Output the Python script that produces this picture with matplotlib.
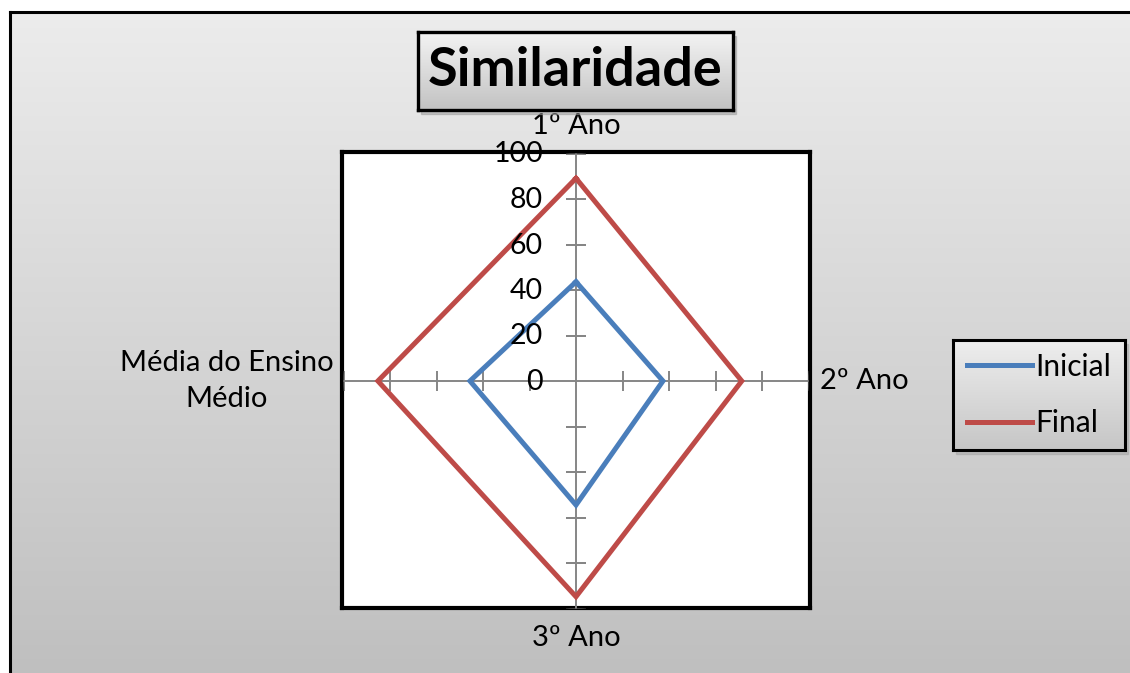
import numpy as np
import matplotlib
matplotlib.use('Agg')
import matplotlib.pyplot as plt
from matplotlib.colors import LinearSegmentedColormap
from matplotlib.lines import Line2D
from matplotlib.patches import Rectangle

# data
categories = ['1º Ano', '2º Ano', '3º Ano', 'Média do Ensino\nMédio']
inicial = [43.6, 37.4, 54.5, 45.6]
final = [89.1, 71.3, 94.8, 85.2]
r_ticks = [0, 20, 40, 60, 80, 100]

W, H = 1130, 673
plt.rcParams['font.family'] = ['Lato', 'DejaVu Sans']
fig = plt.figure(figsize=(W / 100, H / 100), dpi=100)


def fr(x0, y0, x1, y1):
    # pixel box (origin top-left) -> figure rect
    return [x0 / W, 1 - y1 / H, (x1 - x0) / W, (y1 - y0) / H]


def gradient_axes(rect, top, bottom, zorder, lw):
    a = fig.add_axes(rect, zorder=zorder)
    g = np.linspace(0, 1, 256).reshape(-1, 1)
    cmap = LinearSegmentedColormap.from_list('g', [top, bottom])
    a.imshow(g, aspect='auto', cmap=cmap, extent=(0, 1, 0, 1), origin='upper')
    a.set_xticks([])
    a.set_yticks([])
    for s in a.spines.values():
        s.set_linewidth(lw)
        s.set_color('black')
    return a


# chart area background
gradient_axes(fr(10, 12, 1145, 690), '#ececec', '#bebebe', 0, 2.2)

# plot area box
pa = fig.add_axes(fr(342, 152, 810, 608), zorder=1)
pa.set_facecolor('white')
pa.set_xticks([])
pa.set_yticks([])
for s in pa.spines.values():
    s.set_linewidth(3)

# radar axes (Excel stretches it slightly wider than tall)
ax = fig.add_axes(fr(343.5, 153.5, 808.5, 608.5), projection='polar', zorder=2)
ax.set_aspect('auto')
ax.set_facecolor('none')
ax.set_theta_zero_location('N')
ax.set_theta_direction(-1)
ax.set_ylim(0, 100)
ax.grid(False)
ax.spines['polar'].set_visible(False)
ax.set_xticks([])
ax.set_yticks([])

angles = np.arange(len(categories)) * 2 * np.pi / len(categories)
grey = '#868686'
for i, th in enumerate(angles):
    ax.plot([th, th], [0, 100], color=grey, lw=1.4, zorder=1)
    ax.plot(np.full(len(r_ticks) - 1, th), r_ticks[1:], ls='none',
            marker='_' if i % 2 == 0 else '|', ms=15, mew=1.4,
            color=grey, zorder=1)

th_closed = np.append(angles, angles[0])
ax.plot(th_closed, inicial + inicial[:1], color='#4a7ebb', lw=3.6,
        solid_joinstyle='miter', zorder=3)
ax.plot(th_closed, final + final[:1], color='#be4b48', lw=3.6,
        solid_joinstyle='miter', zorder=3)

for r in r_ticks:
    ax.annotate(str(r), (0, r), xytext=(-33, -1), textcoords='offset pixels',
                ha='right', va='center', fontsize=20.5, zorder=4)

lab_off = [(0, 27, 'center'), (12, 0, 'left'), (0, -29, 'center'), (-10, 0, 'right')]
for th, lab, (dx, dy, ha) in zip(angles, categories, lab_off):
    ax.annotate(lab, (th, 100), xytext=(dx, dy), textcoords='offset pixels',
                ha=ha, va='center', multialignment='center', linespacing=1.45,
                fontsize=21, annotation_clip=False)

# title box
fig.patches.append(Rectangle((421 / W, 1 - 114 / H), 315 / W, 78 / H,
                             transform=fig.transFigure, color='#999999',
                             alpha=0.5, zorder=2))
ta = gradient_axes(fr(418, 32, 733, 110), '#f4f4f4', '#c2c2c2', 3, 2.4)
ta.text(0.5, 0.5, 'Similaridade', transform=ta.transAxes, ha='center',
        va='center', fontsize=39, fontweight='bold')

# legend box
fig.patches.append(Rectangle((956 / W, 1 - 454 / H), 172 / W, 110 / H,
                             transform=fig.transFigure, color='#999999',
                             alpha=0.4, zorder=2))
gradient_axes(fr(953, 340, 1125, 450), '#eeeeee', '#c6c6c6', 3, 2.2)
handles = [Line2D([], [], color='#4a7ebb', lw=3.6),
           Line2D([], [], color='#be4b48', lw=3.6)]
leg = fig.legend(handles, ['Inicial', 'Final'], loc='center',
                 bbox_to_anchor=((953 + 1125) / 2 / W, 1 - 395 / H),
                 frameon=False, fontsize=21.5, handlelength=2.17,
                 handletextpad=0.13, labelspacing=0.95)
leg.set_zorder(5)

fig.savefig('out.png', dpi=100)
